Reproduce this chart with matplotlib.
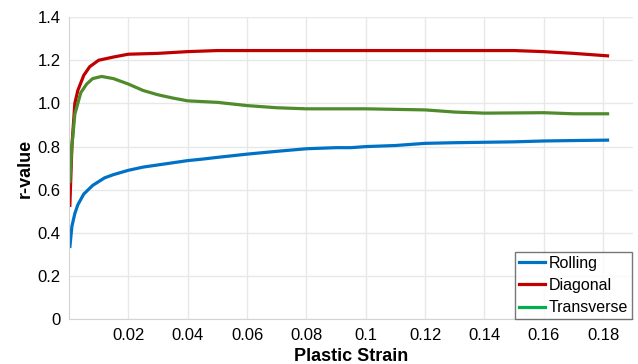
import matplotlib
matplotlib.use("Agg")
import matplotlib.pyplot as plt
from matplotlib.lines import Line2D

plt.rcParams['font.family'] = ['Liberation Sans', 'DejaVu Sans']

# Rolling direction
rolling_x = [0.0003, 0.001, 0.002, 0.003, 0.005, 0.008, 0.012, 0.015, 0.02, 0.025, 0.03,
             0.035, 0.04, 0.045, 0.05, 0.06, 0.07, 0.08, 0.09, 0.095, 0.1, 0.11, 0.12,
             0.13, 0.14, 0.15, 0.16, 0.17, 0.182]
rolling_r = [0.33, 0.43, 0.49, 0.53, 0.58, 0.62, 0.655, 0.67, 0.69, 0.705, 0.715,
             0.725, 0.735, 0.742, 0.75, 0.765, 0.778, 0.79, 0.795, 0.795, 0.8, 0.805, 0.815,
             0.818, 0.82, 0.822, 0.826, 0.828, 0.83]

# Diagonal direction
diagonal_x = [0.0003, 0.001, 0.002, 0.003, 0.005, 0.007, 0.01, 0.015, 0.02, 0.03, 0.04,
              0.05, 0.07, 0.1, 0.13, 0.15, 0.16, 0.17, 0.182]
diagonal_r = [0.52, 0.80, 1.0, 1.06, 1.13, 1.17, 1.20, 1.215, 1.228, 1.232, 1.24,
              1.245, 1.245, 1.245, 1.245, 1.245, 1.24, 1.232, 1.22]

# Transverse direction
transverse_x = [0.0003, 0.001, 0.002, 0.004, 0.006, 0.008, 0.011, 0.015, 0.02, 0.025, 0.03,
                0.035, 0.04, 0.05, 0.06, 0.07, 0.08, 0.1, 0.12, 0.13, 0.14, 0.16, 0.17, 0.182]
transverse_r = [0.63, 0.80, 0.95, 1.05, 1.09, 1.115, 1.125, 1.115, 1.09, 1.06, 1.04,
                1.025, 1.012, 1.005, 0.99, 0.98, 0.975, 0.975, 0.97, 0.96, 0.955, 0.957, 0.952, 0.952]

x_ticks = [0.02, 0.04, 0.06, 0.08, 0.1, 0.12, 0.14, 0.16, 0.18]
x_labels = ['0.02', '0.04', '0.06', '0.08', '0.1', '0.12', '0.14', '0.16', '0.18']
y_ticks = [0, 0.2, 0.4, 0.6, 0.8, 1.0, 1.2, 1.4]
y_labels = ['0', '0.2', '0.4', '0.6', '0.8', '1.0', '1.2', '1.4']

fig = plt.figure(figsize=(6.38, 3.64), dpi=100)
ax = fig.add_axes([0.108, 0.123, 0.884, 0.830])

ax.plot(rolling_x, rolling_r, color='#0072C6', lw=2.3, solid_capstyle='butt')
ax.plot(diagonal_x, diagonal_r, color='#C00000', lw=2.3, solid_capstyle='butt')
ax.plot(transverse_x, transverse_r, color='#4F8A2B', lw=2.3, solid_capstyle='butt')

ax.set_xlim(0, 0.19)
ax.set_ylim(0, 1.4)
ax.set_xticks(x_ticks)
ax.set_xticklabels(x_labels)
ax.set_yticks(y_ticks)
ax.set_yticklabels(y_labels)
ax.tick_params(length=0, labelsize=12, pad=6)
ax.grid(True, color='#e8e8e8', lw=1)
ax.set_axisbelow(True)
for s in ['top', 'right']:
    ax.spines[s].set_visible(False)
for s in ['left', 'bottom']:
    ax.spines[s].set_color('#d4d4d4')

ax.set_xlabel('Plastic Strain', fontsize=13, fontweight='bold', labelpad=4)
ax.set_ylabel('r-value', fontsize=13, fontweight='bold', labelpad=3)

handles = [Line2D([], [], color='#0072C6', lw=2.3),
           Line2D([], [], color='#C00000', lw=2.3),
           Line2D([], [], color='#00B050', lw=2.3)]
leg = ax.legend(handles, ['Rolling', 'Diagonal', 'Transverse'], loc='lower right',
                fontsize=11.5, frameon=True, fancybox=False, handlelength=1.6,
                handletextpad=0.25, borderpad=0.25, labelspacing=0.45,
                borderaxespad=0.0, bbox_to_anchor=(0.9985, 0.0))
leg.get_frame().set_edgecolor('#555555')
leg.get_frame().set_linewidth(1)

fig.savefig('out.png', dpi=100)
